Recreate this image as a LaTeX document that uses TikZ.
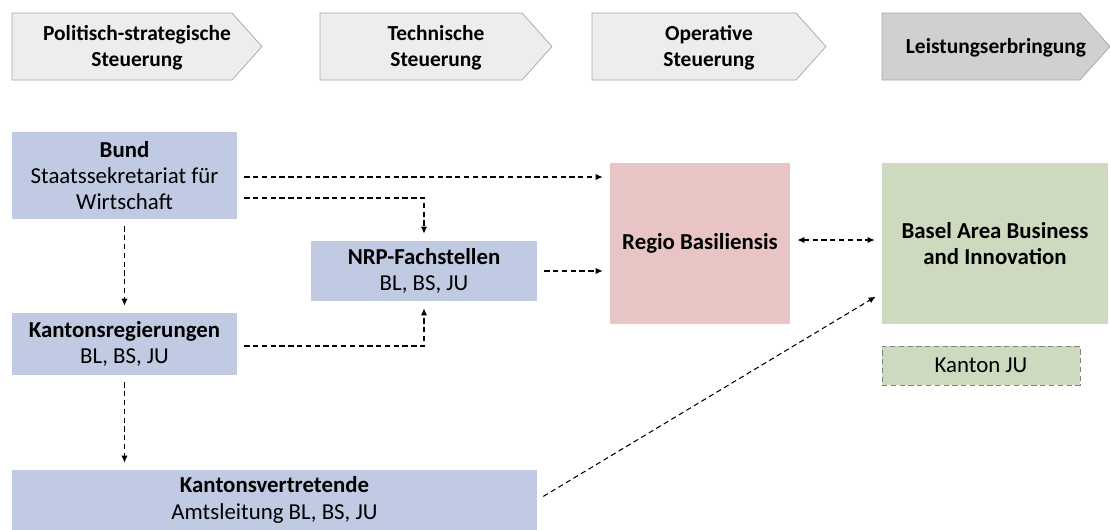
\documentclass[tikz,border=0pt]{standalone}
\usepackage{fontspec}
\setmainfont{Carlito}
\usetikzlibrary{arrows.meta}

\definecolor{headfill}{HTML}{EDEDED}
\definecolor{headdark}{HTML}{D0D0D0}
\definecolor{headline}{HTML}{A6A6A6}
\definecolor{bluebox}{HTML}{C1CAE3}
\definecolor{redbox}{HTML}{E8C4C4}
\definecolor{greenbox}{HTML}{CEDABF}

\tikzset{
  box/.style={fill=bluebox, inner sep=0pt, align=center, font=\fontsize{13}{15}\selectfont},
  head/.style={align=center, font=\bfseries\fontsize{12.2}{15}\selectfont},
  flow/.style={densely dashed, line width=0.6pt, -{Latex[length=4pt,width=3.6pt]},
               shorten <=4pt, shorten >=4pt},
}

\begin{document}
\begin{tikzpicture}[x=0.02cm, y=-0.02cm]
  \useasboundingbox (0,0) rectangle (1110,529);

  % process chevrons
  \draw[headline, fill=headfill] (12,13) -- (232,13) -- (262,46.5) -- (232,80) -- (12,80) -- cycle;
  \draw[headline, fill=headfill] (320,13) -- (522,13) -- (552,46.5) -- (522,80) -- (320,80) -- cycle;
  \draw[headline, fill=headfill] (592,13) -- (796,13) -- (826,46.5) -- (796,80) -- (592,80) -- cycle;
  \draw[headline, fill=headdark] (882,13) -- (1080,13) -- (1110,46.5) -- (1080,80) -- (882,80) -- cycle;

  \node[head] (h1) at (137,48) {Politisch-strategische\\Steuerung};
  \node[head] (h2) at (436,48) {Technische\\Steuerung};
  \node[head] (h3) at (709,48) {Operative\\Steuerung};
  \node[head] (h4) at (996,48) {Leistungserbringung};

  % actors
  \node[box, minimum width=4.5cm, minimum height=1.74cm] (bund) at (124.5,175.5)
    {\textbf{Bund}\\Staatssekretariat für\\Wirtschaft};
  \node[box, minimum width=4.5cm, minimum height=1.24cm] (kreg) at (124.5,344)
    {\textbf{Kantonsregierungen}\\BL, BS, JU};
  \node[box, minimum width=10.5cm, minimum height=1.2cm] (kvert) at (274.5,500)
    {\textbf{Kantonsvertretende}\\Amtsleitung BL, BS, JU};
  \node[box, minimum width=4.52cm, minimum height=1.2cm] (nrp) at (424,271)
    {\textbf{NRP-Fachstellen}\\BL, BS, JU};
  \node[box, fill=redbox, minimum width=3.6cm, minimum height=3.22cm] (regio) at (700,243.5)
    {\textbf{Regio Basiliensis}};
  \node[box, fill=greenbox, minimum width=4.52cm, minimum height=3.22cm] (basel) at (995,243.5)
    {\textbf{Basel Area Business}\\\textbf{and Innovation}};
  \node[box, fill=greenbox, draw=gray, densely dashed, minimum width=3.96cm, minimum height=0.78cm] (ju) at (981,365.5)
    {Kanton JU};

  % connectors
  \draw[flow] (bund.east |- 0,177) -- (regio.west |- 0,177);
  \draw[flow] (bund.east |- 0,198) -| (nrp.north);
  \draw[flow] (bund.south) -- (kreg.north);
  \draw[flow] (kreg.east |- 0,346) -| (nrp.south);
  \draw[flow] (nrp.east) -- (regio.west |- nrp.east);
  \draw[flow, {Latex[length=4pt,width=3.6pt]}-{Latex[length=4pt,width=3.6pt]}] (regio.east |- 0,240) -- (basel.west |- 0,240);
  \draw[flow] (kreg.south) -- (kreg.south |- kvert.north);
  \draw[flow] (kvert.east) -- (basel.west |- 0,293);

\end{tikzpicture}
\end{document}
